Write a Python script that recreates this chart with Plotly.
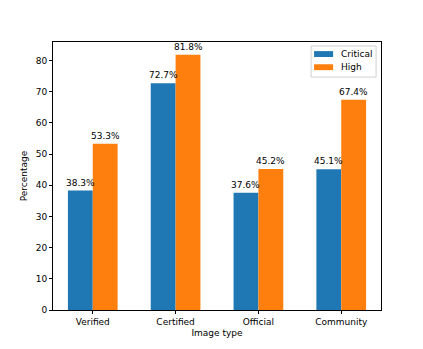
import plotly.graph_objects as go

categories = ["Verified", "Certified", "Official", "Community"]
critical = [38.3, 72.7, 37.6, 45.1]
high = [53.3, 81.8, 45.2, 67.4]
yticks = [0, 10, 20, 30, 40, 50, 60, 70, 80]
series_names = ["Critical", "High"]
colors = ["#1f77b4", "#ff7f0e"]

x = list(range(len(categories)))
font = dict(family="DejaVu Sans", size=9, color="black")

fig = go.Figure()
fig.add_trace(go.Bar(x=x, y=critical, name=series_names[0], width=0.3, offset=-0.3,
                     marker=dict(color=colors[0], line=dict(width=0))))
fig.add_trace(go.Bar(x=x, y=high, name=series_names[1], width=0.3, offset=0,
                     marker=dict(color=colors[1], line=dict(width=0))))

# value labels above each bar
for i in x:
    for dx, v in ((-0.15, critical[i]), (0.15, high[i])):
        fig.add_annotation(x=i + dx, y=v, text=f"{v}%", showarrow=False,
                           yanchor="bottom", yshift=1, font=font)

# matplotlib-style legend box drawn by hand (compact, rectangular keys)
fig.add_shape(type="rect", xref="paper", yref="paper", x0=0.787, x1=0.985,
              y0=0.869, y1=0.985, line=dict(color="#d0d0d0", width=1),
              fillcolor="rgba(255,255,255,0.8)", layer="above")
for k, (yc, name, col) in enumerate(zip([0.955, 0.906], series_names, colors)):
    fig.add_shape(type="rect", xref="paper", yref="paper", x0=0.796, x1=0.854,
                  y0=yc - 0.011, y1=yc + 0.011, fillcolor=col, line=dict(width=0),
                  layer="above")
    fig.add_annotation(xref="paper", yref="paper", x=0.872, y=yc, text=name,
                       showarrow=False, xanchor="left", yanchor="middle", font=font)

axis_style = dict(showline=True, linecolor="black", linewidth=1, mirror=True,
                  ticks="outside", ticklen=3, tickcolor="black", showgrid=False,
                  zeroline=False, tickfont=font, title_font=font, automargin=False)

fig.update_layout(
    width=423, height=349,
    margin=dict(l=53, r=42, t=42, b=39),
    plot_bgcolor="white", paper_bgcolor="white",
    font=font,
    showlegend=False,
    xaxis=dict(range=[-0.48, 3.48], tickvals=x, ticktext=categories,
               title=dict(text="Image type", standoff=3), **axis_style),
    yaxis=dict(range=[0, 85.9], tickvals=yticks,
               title=dict(text="Percentage", standoff=6), **axis_style),
)

fig.write_html("out.html", config={"displayModeBar": False},
               post_script="document.body.style.margin='0';")
